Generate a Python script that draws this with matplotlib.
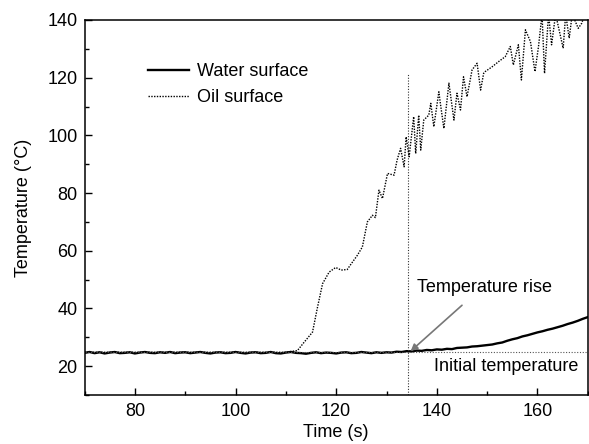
import numpy as np
import matplotlib
matplotlib.use("Agg")
import matplotlib.pyplot as plt
from matplotlib.ticker import MultipleLocator

plt.rcParams['font.family'] = ['Liberation Sans', 'DejaVu Sans']

# Water surface temperature, sampled every 1 s from 70 s to 170 s
water_time = np.arange(70, 171, 1)
water_temp = [
    24.6, 24.9, 24.5, 24.8, 24.4, 24.7, 24.9, 24.5, 24.6, 24.8,
    24.4, 24.7, 24.9, 24.6, 24.5, 24.8, 24.6, 24.9, 24.5, 24.7,
    24.8, 24.5, 24.7, 24.9, 24.6, 24.4, 24.7, 24.8, 24.5, 24.6,
    24.9, 24.6, 24.4, 24.7, 24.8, 24.5, 24.6, 24.9, 24.5, 24.4,
    24.7, 24.9, 24.6, 24.5, 24.3, 24.6, 24.8, 24.5, 24.7, 24.6,
    24.4, 24.7, 24.8, 24.5, 24.6, 24.9, 24.7, 24.5, 24.8, 24.6,
    24.8, 24.7, 25.0, 24.9, 25.2, 25.1, 25.4, 25.3, 25.6, 25.5,
    25.8, 25.7, 26.0, 25.9, 26.3, 26.4, 26.5, 26.8, 26.9, 27.1,
    27.3, 27.5, 27.9, 28.2, 28.8, 29.3, 29.7, 30.3, 30.7, 31.2,
    31.7, 32.1, 32.6, 33.0, 33.5, 34.0, 34.6, 35.1, 35.7, 36.4,
    37.0,
]

# Oil surface temperature
oil_time = [70, 110, 112.3, 113.5, 115.3, 116.3, 117.3, 118.6, 119.9, 121.0,
            122.2, 123.0, 124.2, 125.2, 126.2, 127.2, 127.8,
            128.5, 129.2, 130.2, 131.5, 132.1, 132.8, 133.5, 133.9, 134.5, 135.4,
            135.8, 136.4, 136.8, 137.4, 138.4, 138.8, 139.4, 140.4, 140.7, 141.4,
            142.4, 143.4, 144.0, 144.7, 145.3, 146.0, 147.0, 148.0, 148.7, 149.3,
            149.6, 151.0, 152.3, 153.6, 154.6, 155.2, 156.2, 156.8, 157.6, 158.6,
            159.5, 160.2, 160.9, 161.4, 162.2, 162.8, 163.6, 165.1, 165.6, 166.3,
            166.9, 168.1, 168.8, 169.4, 170]
oil_temp = [24.8, 24.8, 25.4, 28.0, 31.8, 40.5, 48.6, 52.6, 54.2, 53.3,
            53.5, 55.5, 58.4, 61.3, 70.0, 72.3, 71.5,
            81.0, 78.1, 86.8, 86.2, 91.4, 95.5, 89.1, 99.5, 92.6, 106.5,
            93.7, 107.0, 94.9, 105.3, 107.0, 111.1, 103.0, 115.1, 111.1, 102.4,
            118.1, 105.3, 114.6, 108.8, 120.3, 113.4, 122.7, 125.0, 115.7, 121.5,
            122.1, 123.8, 125.6, 127.3, 130.8, 124.4, 131.4, 119.2, 136.6, 132.5,
            122.1, 130.8, 142.0, 121.5, 142.0, 131.4, 142.0, 130.2, 142.0, 133.7,
            142.0, 137.1, 138.9, 142.0, 140.5]

initial_temp = 25.0
rise_time = 134.3

fig = plt.figure(figsize=(5.89, 4.44), dpi=100)
ax = fig.add_axes([0.1435, 0.1104, 0.8545, 0.8446])

ax.plot(water_time, water_temp, color='black', lw=1.7, label='Water surface')
ax.plot(oil_time, oil_temp, color='black', lw=1.0, ls=(0, (1, 1)), label='Oil surface')
ax.axhline(initial_temp, color='#555555', lw=0.8, ls=(0, (1, 1.5)))
ax.plot([rise_time, rise_time], [10, 121.6], color='#333333', lw=0.8, ls=(0, (1, 1.5)))

ax.annotate('', xy=(134.8, 25.2), xytext=(145.0, 41.1),
            arrowprops=dict(arrowstyle='-|>', color='#777777', lw=1.2,
                            mutation_scale=10, shrinkA=0, shrinkB=0))
ax.text(136.1, 47.3, 'Temperature rise', fontsize=13, ha='left', va='center')
ax.text(139.4, 19.9, 'Initial temperature', fontsize=13, ha='left', va='center')

ax.set_xlim(70, 170)
ax.set_ylim(10, 140)
ax.xaxis.set_major_locator(MultipleLocator(20))
ax.xaxis.set_minor_locator(MultipleLocator(10))
ax.yaxis.set_major_locator(MultipleLocator(20))
ax.yaxis.set_minor_locator(MultipleLocator(10))
ax.set_yticks([20, 40, 60, 80, 100, 120, 140])
ax.tick_params(which='major', direction='in', length=5, width=1.0, labelsize=13)
ax.tick_params(axis='x', which='major', pad=6)
ax.tick_params(axis='y', which='major', pad=5)
ax.tick_params(which='minor', direction='in', length=3, width=1.0)
ax.tick_params(top=False, right=False, which='both')
for sp in ax.spines.values():
    sp.set_linewidth(1.1)

ax.set_xlabel('Time (s)', fontsize=13, labelpad=3)
ax.set_ylabel('Temperature (°C)', fontsize=13, labelpad=11)

ax.legend(loc='upper left', bbox_to_anchor=(0.126, 0.884), frameon=False, fontsize=13,
          handlelength=2.3, handletextpad=0.4, labelspacing=0.47,
          borderpad=0, borderaxespad=0)

fig.savefig('out.png', dpi=100)
